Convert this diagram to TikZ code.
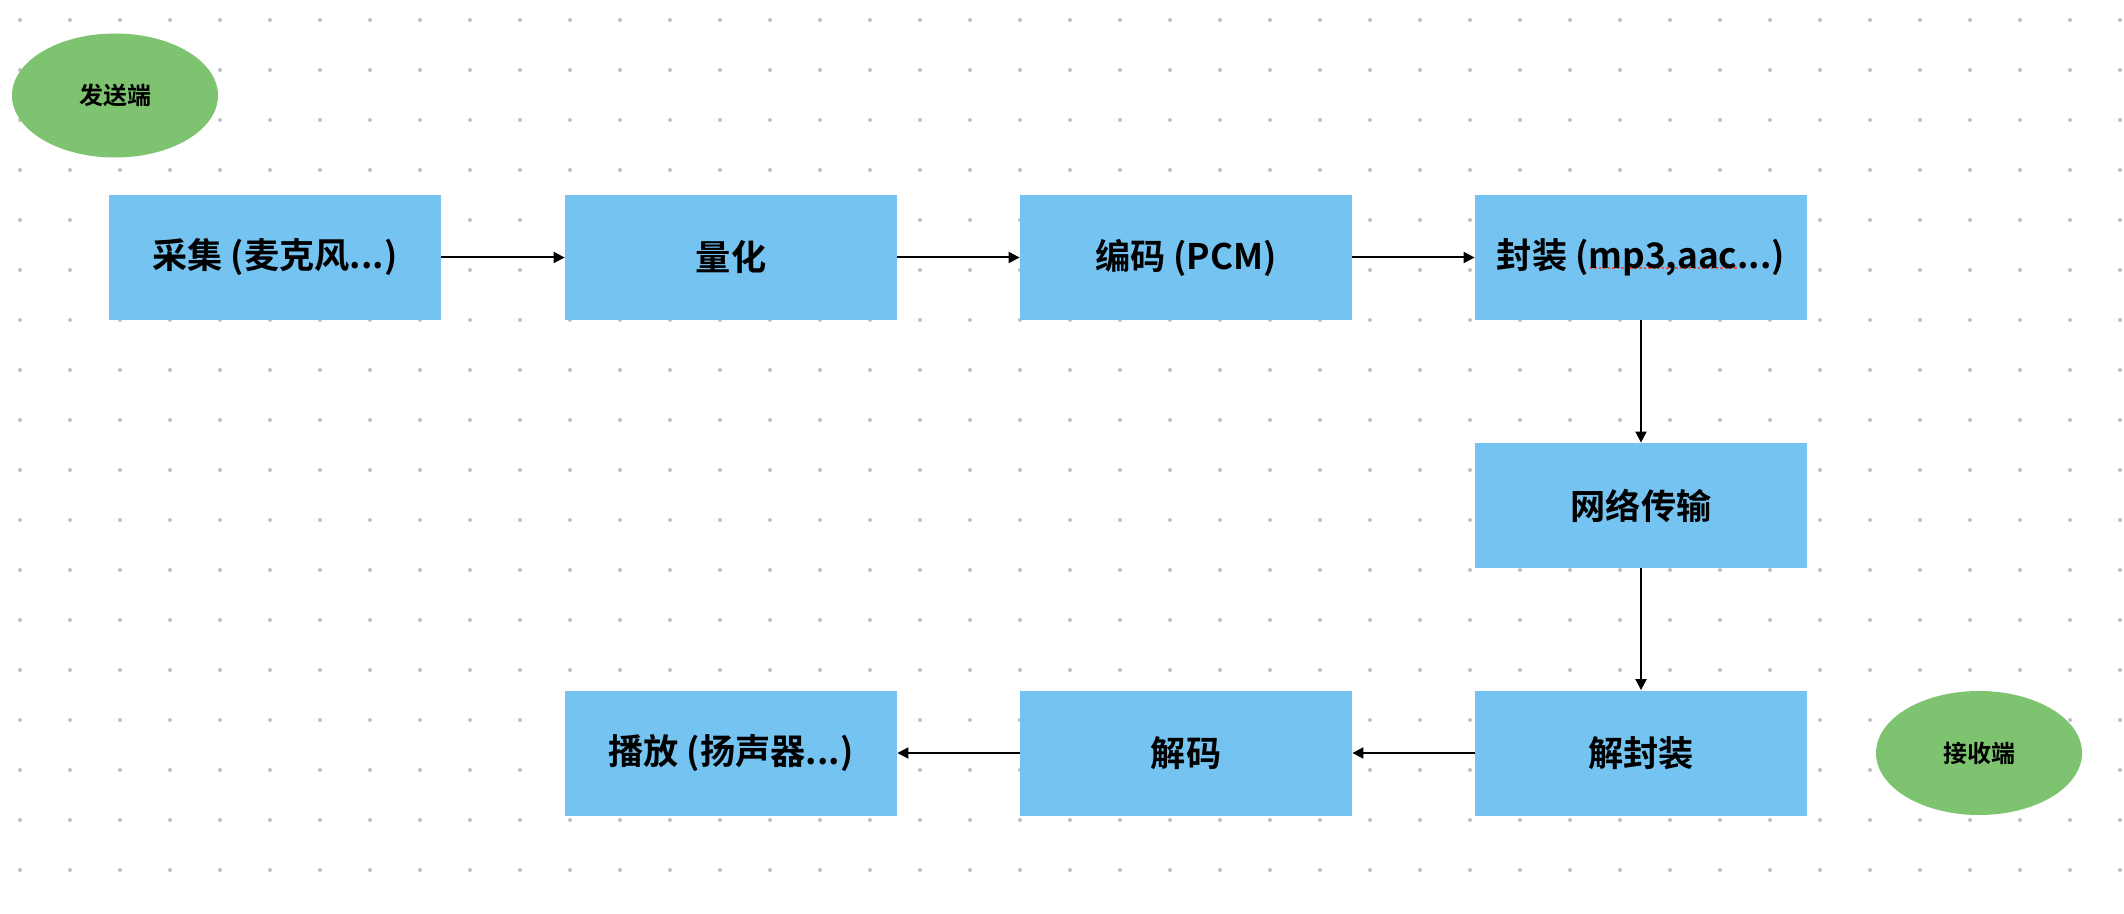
\documentclass[tikz,border=0pt]{standalone}
\usepackage{fontspec}
\setmainfont{Noto Sans CJK SC}[BoldFont={Noto Sans CJK SC Bold}]
\usetikzlibrary{shapes.geometric,arrows.meta}
\definecolor{boxblue}{HTML}{75C3F1}
\definecolor{endgreen}{HTML}{7DC370}
\definecolor{dotgray}{HTML}{BFBFC4}
\definecolor{spellred}{HTML}{E8553F}

\newsavebox\spellbox
\newcommand\spellmark[1]{\sbox\spellbox{#1}\rlap{\raisebox{-0.4pt}{\color{spellred}\xleaders\hbox to 2.2pt{\hss\rule{1.3pt}{1.2pt}\hss}\hskip\wd\spellbox}}\usebox\spellbox}

\begin{document}
\begin{tikzpicture}[x=0.5pt,y=-0.5pt,
  stage/.style={rectangle,fill=boxblue,minimum width=166pt,minimum height=62.5pt,inner sep=0pt,font=\fontsize{17.6}{20}\selectfont\bfseries},
  side/.style={ellipse,fill=endgreen,minimum width=103pt,minimum height=62pt,inner sep=0pt,font=\fontsize{12}{14}\selectfont\bfseries},
  flow/.style={-{Triangle[length=5.5pt,width=5.5pt]},line width=1pt}]
% Canvas and dot grid
\fill[white] (0,0) rectangle (2124,914);
\useasboundingbox (0,0) rectangle (2124,914);
\foreach \i in {0,...,42}
  \foreach \j in {0,...,17}
    \fill[dotgray] (20+50*\i,20+50*\j) circle[radius=1pt];

% Sender side
\node[side] (sender) at (115,95.5) {发送端};

% Stages
\node[stage] (capture) at (275,257.5) {采集 (麦克风...)};
\node[stage] (quantize) at (731,257.5) {量化};
\node[stage] (encode) at (1186,257.5) {编码 (PCM)};
\node[stage] (pack) at (1641,257.5) {封装 (\spellmark{mp3,aac}...)};
\node[stage] (network) at (1641,505.5) {网络传输};
\node[stage] (unpack) at (1641,753) {解封装};
\node[stage] (decode) at (1186,753) {解码};
\node[stage] (play) at (731,753) {播放 (扬声器...)};

% Receiver side
\node[side] (receiver) at (1979,753) {接收端};

% Arrows
\draw[flow] (capture) -- (quantize);
\draw[flow] (quantize) -- (encode);
\draw[flow] (encode) -- (pack);
\draw[flow] (pack) -- (network);
\draw[flow] (network) -- (unpack);
\draw[flow] (unpack) -- (decode);
\draw[flow] (decode) -- (play);
\end{tikzpicture}
\end{document}
